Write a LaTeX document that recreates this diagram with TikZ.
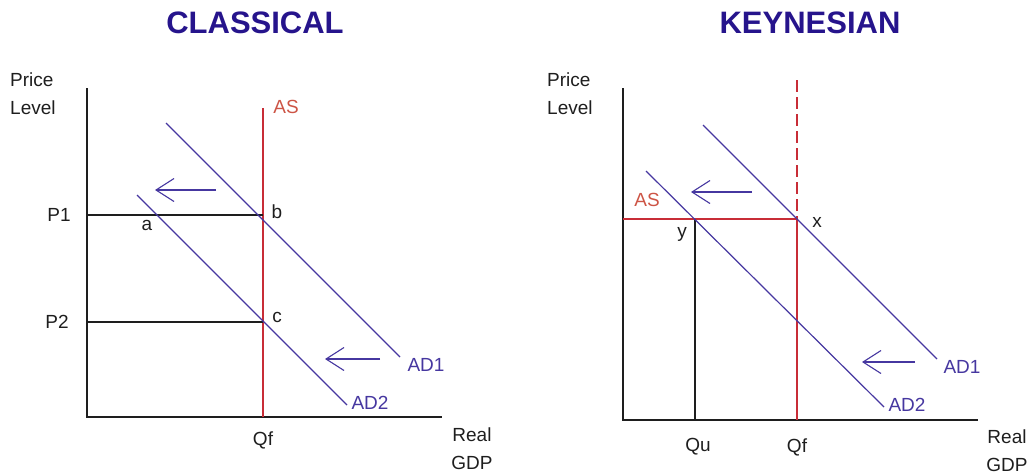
\documentclass[tikz,border=0pt]{standalone}
\usepackage{fontspec}
\setmainfont{Liberation Sans}
\usetikzlibrary{arrows.meta}
\definecolor{ttl}{RGB}{38,20,140}
\definecolor{adc}{RGB}{70,55,160}
\definecolor{asred}{RGB}{200,45,55}
\definecolor{aslab}{RGB}{205,85,70}
\definecolor{axc}{RGB}{30,30,30}
\tikzset{
  axisline/.style={draw=axc, line width=1.8pt},
  levelline/.style={draw=axc, line width=1.6pt},
  adline/.style={draw=adc, line width=1.2pt},
  asline/.style={draw=asred, line width=1.6pt},
  shiftarrow/.style={draw=adc, line width=1.3pt, -{Straight Barb[length=18pt,width=23pt,line width=1.1pt]}},
  lbl/.style={font=\fontsize{19}{28}\selectfont, text=axc, inner sep=0pt},
  adlbl/.style={font=\fontsize{19}{28}\selectfont, text=adc, inner sep=0pt},
  aslbl/.style={font=\fontsize{19}{28}\selectfont, text=aslab, inner sep=0pt},
  titlelbl/.style={font=\fontsize{31}{34}\selectfont\bfseries, text=ttl, inner sep=0pt}
}
\begin{document}
\begin{tikzpicture}[x=1pt,y=-1pt]
\useasboundingbox (0,0) rectangle (1029,475);
% ---------------- CLASSICAL ----------------
\node[titlelbl] (tC) at (255,23) {CLASSICAL};
\node[lbl, align=left, anchor=west] (plC) at (10,94) {Price\\Level};
\coordinate (oC) at (87,417);
\coordinate (yC) at (87,88);
\coordinate (xC) at (442,417);
\draw[axisline] (yC) -- (oC) -- (xC);
% AS
\coordinate (asTopC) at (263,108);
\coordinate (asBotC) at (263,417);
\draw[asline] (asTopC) -- (asBotC);
\node[aslbl] (asC) at (286,107) {AS};
% price levels
\coordinate (p1C) at (87,215);
\coordinate (bC) at (263,215);
\coordinate (p2C) at (87,322);
\coordinate (cC) at (263,322);
\draw[levelline] (p1C) -- (bC);
\draw[levelline] (p2C) -- (cC);
\node[lbl] (P1) at (59,215) {P1};
\node[lbl] (P2) at (57,322) {P2};
\node[lbl] (aC) at (147,225) {a};
\node[lbl] (bL) at (277,212) {b};
\node[lbl] (cL) at (277,317) {c};
% AD curves
\coordinate (ad1sC) at (166,123);
\coordinate (ad1eC) at (400,357);
\coordinate (ad2sC) at (137,195);
\coordinate (ad2eC) at (347,405);
\draw[adline] (ad1sC) -- (ad1eC);
\draw[adline] (ad2sC) -- (ad2eC);
\node[adlbl] (ad1C) at (426,365) {AD1};
\node[adlbl] (ad2C) at (370,403) {AD2};
% arrows
\coordinate (a1s) at (216,190);
\coordinate (a1e) at (155,190);
\coordinate (a2s) at (380,359);
\coordinate (a2e) at (325,359);
\draw[shiftarrow] (a1s) -- (a1e);
\draw[shiftarrow] (a2s) -- (a2e);
\node[lbl] (qfC) at (263,440) {Qf};
\node[lbl, align=center] (gdpC) at (472,449) {Real\\GDP};
% ---------------- KEYNESIAN ----------------
\node[titlelbl] (tK) at (810,23) {KEYNESIAN};
\node[lbl, align=left, anchor=west] (plK) at (547,94) {Price\\Level};
\coordinate (oK) at (623,420);
\coordinate (yK) at (623,88);
\coordinate (xK) at (978,420);
\draw[axisline] (yK) -- (oK) -- (xK);
% AS (horizontal then vertical)
\coordinate (asL) at (623,219);
\coordinate (xPt) at (797,219);
\coordinate (asTopK) at (797,80);
\coordinate (asBotK) at (797,420);
\draw[asline, dash pattern=on 12pt off 5pt] (asTopK) -- (xPt);
\draw[asline] (asL) -- (xPt) -- (asBotK);
\node[aslbl] (asK) at (647,200) {AS};
% Qu line
\coordinate (yPt) at (695,219);
\coordinate (quBot) at (695,420);
\draw[levelline] (yPt) -- (quBot);
\node[lbl] (xL) at (817,222) {x};
\node[lbl] (yL) at (682,234) {y};
% AD curves
\coordinate (ad1sK) at (703,125);
\coordinate (ad1eK) at (937,359);
\coordinate (ad2sK) at (646,171);
\coordinate (ad2eK) at (884,407);
\draw[adline] (ad1sK) -- (ad1eK);
\draw[adline] (ad2sK) -- (ad2eK);
\node[adlbl] (ad1K) at (962,367) {AD1};
\node[adlbl] (ad2K) at (907,405) {AD2};
% arrows
\coordinate (b1s) at (752,192);
\coordinate (b1e) at (691,192);
\coordinate (b2s) at (915,362);
\coordinate (b2e) at (862,362);
\draw[shiftarrow] (b1s) -- (b1e);
\draw[shiftarrow] (b2s) -- (b2e);
\node[lbl] (quK) at (698,447) {Qu};
\node[lbl] (qfK) at (797,447) {Qf};
\node[lbl, align=center] (gdpK) at (1007,451) {Real\\GDP};
\end{tikzpicture}
\end{document}
